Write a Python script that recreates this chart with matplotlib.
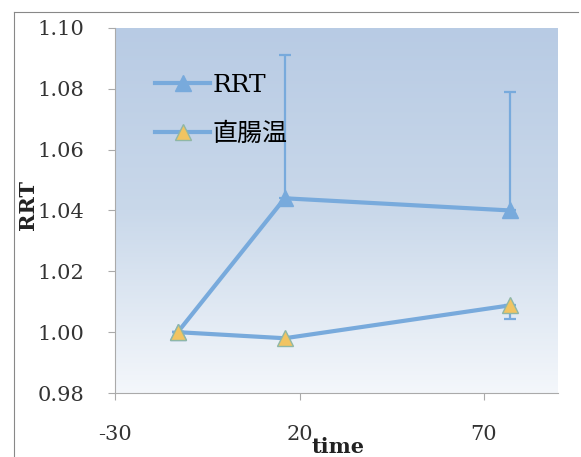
import numpy as np
import matplotlib
matplotlib.use('Agg')
from matplotlib import pyplot as plt
from matplotlib.lines import Line2D

plt.rcParams['font.family'] = ['DejaVu Serif', 'Noto Sans CJK JP', 'DejaVu Sans']

# dados
time = [-13, 16, 77]
rrt = [1.000, 1.044, 1.040]
rrt_err_up = [0.0, 0.047, 0.039]
temp = [1.000, 0.998, 1.0088]
temp_err_down = [0.0, 0.0, 0.0045]

xticks = [-30, 20, 70]
yticks = [0.98, 1.00, 1.02, 1.04, 1.06, 1.08, 1.10]

line_color = '#78aadc'

fig = plt.figure(figsize=(5.81, 4.57), dpi=100)
ax = fig.add_axes([0.198, 0.140, 0.762, 0.799])

# fundo em degradê
grad = np.linspace(0, 1, 256).reshape(-1, 1)
cmap = matplotlib.colors.LinearSegmentedColormap.from_list('bg', ['#f4f7fb', '#c9d8ea', '#b8cbe4'])
ax.imshow(grad, extent=[0, 1, 0, 1], transform=ax.transAxes, cmap=cmap,
          aspect='auto', origin='lower', zorder=0)

ax.errorbar(time, rrt, yerr=[np.zeros(3), rrt_err_up], fmt='none',
            ecolor=line_color, elinewidth=1.6, capsize=4, capthick=1.6, zorder=2)
ax.errorbar(time, temp, yerr=[temp_err_down, np.zeros(3)], fmt='none',
            ecolor=line_color, elinewidth=1.6, capsize=4, capthick=1.6, zorder=2)

ax.plot(time, rrt, color=line_color, lw=3, marker='^', markersize=11,
        markerfacecolor=line_color, markeredgecolor=line_color, label='RRT', zorder=3)
ax.plot(time, temp, color=line_color, lw=3, marker='^', markersize=11,
        markerfacecolor='#f1c462', markeredgecolor='#8fb7a6', label='直腸温', zorder=4)

ax.set_xlim(-30, 90)
ax.set_ylim(0.98, 1.10)
ax.set_xticks(xticks)
ax.set_xticklabels([str(v) for v in xticks])
ax.set_yticks(yticks)
ax.set_yticklabels(['%.2f' % v for v in yticks])
ax.tick_params(labelsize=15, colors='#aaaaaa', labelcolor='#333333', length=5)
ax.tick_params(axis='y', pad=17)
ax.tick_params(axis='x', pad=18)

for s in ['top', 'right']:
    ax.spines[s].set_visible(False)
for s in ['left', 'bottom']:
    ax.spines[s].set_color('#aaaaaa')
    ax.spines[s].set_linewidth(0.8)

leg = ax.legend(loc='upper left', bbox_to_anchor=(0.04, 0.935), frameon=False,
                fontsize=18, handlelength=2.2, handletextpad=0.1, labelspacing=1.0)

fig.text(28 / 581, 1 - 205 / 457, 'RRT', rotation=90, ha='center', va='center',
         fontsize=15, fontweight='bold', color='#222222')
fig.text(338 / 581, 1 - 447 / 457, 'time', ha='center', va='center',
         fontsize=15, fontweight='bold', color='#222222')

# moldura externa
fig.add_artist(Line2D([14 / 581, 14 / 581], [0, 1 - 12 / 457], color='#888888', lw=0.8))
fig.add_artist(Line2D([14 / 581, 578 / 581], [1 - 12 / 457, 1 - 12 / 457], color='#888888', lw=0.8))

fig.savefig('out.png', dpi=100)
